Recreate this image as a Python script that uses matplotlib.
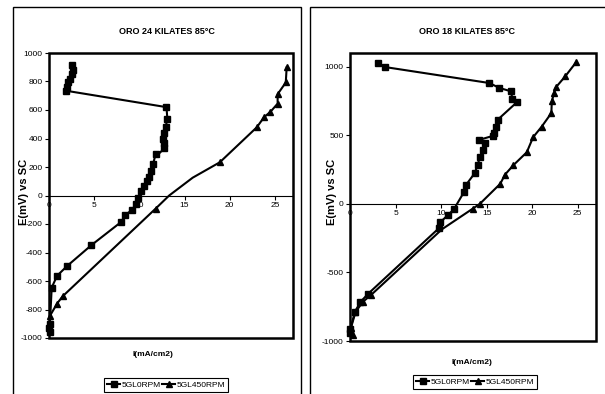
import matplotlib
matplotlib.use("Agg")
import matplotlib.pyplot as plt
from matplotlib.patches import Rectangle

plt.rcParams['axes.unicode_minus'] = False

# ORO 24 kilates, 5 g/L 0 RPM
i24_0 = [0.1, 0.05, 0.1, 0.3, 0.9, 2.0, 4.7, 8.0, 8.4, 9.2, 9.6, 9.9, 10.2, 10.5, 10.8, 11.1,
         11.3, 11.5, 11.8, 12.2, 12.75, 12.7, 12.6, 12.7, 12.9, 13.1, 13.0, 1.9, 2.0, 2.1, 2.3,
         2.5, 2.7, 2.6]
e24_0 = [-955, -930, -900, -646, -563, -495, -348, -185, -140, -100, -63, -15, 30, 66, 100, 127,
         170, 218, 289, 296, 330, 370, 400, 440, 480, 535, 620, 735, 760, 793, 815, 852, 880, 915]
mark24_0 = [i for i in range(len(i24_0)) if i != 19]

# ORO 24 kilates, 5 g/L 450 RPM
i24_450 = [0.1, 0.9, 1.5, 11.8, 13.3, 15.9, 18.9, 20.8, 23.0, 23.8, 24.5, 25.3, 25.3, 26.2, 26.3]
e24_450 = [-845, -758, -708, -92, 0, 125, 233, 347, 479, 550, 587, 645, 711, 793, 899]
mark24_450 = [0, 1, 2, 3, 6, 8, 9, 10, 11, 12, 13, 14]

# ORO 18 kilates, 5 g/L 0 RPM
i18_0 = [0.0, 0.05, 0.55, 1.15, 2.0, 9.8, 9.9, 10.8, 11.4, 12.5, 12.7, 13.7, 14.0, 14.3, 14.6,
         14.8, 14.2, 15.7, 15.8, 16.0, 16.2, 18.3, 17.8, 17.7, 16.4, 15.3, 3.8, 3.1]
e18_0 = [-940, -910, -785, -715, -655, -175, -135, -78, -40, 85, 135, 225, 285, 345, 395,
         445, 467, 496, 520, 564, 613, 740, 764, 820, 845, 881, 998, 1027]

# ORO 18 kilates, 5 g/L 450 RPM
i18_450 = [0.3, 0.1, 0.6, 1.4, 2.3, 10.1, 13.45, 14.25, 16.5, 17.0, 17.9, 19.4, 20.1, 21.05,
           22.1, 22.15, 22.4, 22.6, 23.65, 24.8]
e18_450 = [-955, -905, -790, -715, -665, -185, -36, 0, 147, 212, 280, 376, 486, 564,
           662, 747, 810, 850, 932, 1031]
mark18_450 = [i for i in range(len(i18_450)) if i != 5]

W, H = 605, 394
fig = plt.figure(figsize=(W / 100, H / 100), dpi=100)
sans = ['Liberation Sans', 'DejaVu Sans']


def fx(px):
    return px / W


def fy(py):
    return 1 - py / H


# chart frames
for x0, x1 in [(13, 301), (310, 640)]:
    fig.patches.append(Rectangle((fx(x0), fy(430)), fx(x1 - x0), (430 - 7) / H,
                                 transform=fig.transFigure, fill=False, lw=1.0,
                                 edgecolor='black'))


def panel(box, ylim, yticks, series, title, tx, ylx, xlx, xly, legx, legy):
    l, r, t, b = box
    ax = fig.add_axes([fx(l), fy(b), fx(r - l), (b - t) / H])
    handles = []
    for xs, ys, m, ms, me in series:
        h, = ax.plot(xs, ys, color='black', lw=1.5, marker=m, ms=ms, markevery=me,
                     clip_on=False)
        handles.append(h)
    ax.set_xlim(0, 27)
    ax.set_ylim(*ylim)
    ax.set_yticks(yticks)
    ax.set_xticks([0, 5, 10, 15, 20, 25])
    for s in ['top', 'right', 'left']:
        ax.spines[s].set_visible(False)
    ax.spines['bottom'].set_position(('data', 0))
    ax.spines['bottom'].set_linewidth(0.8)
    ax.add_patch(Rectangle((0, 0), 1, 1, transform=ax.transAxes, fill=False, lw=1.8,
                           edgecolor='black', clip_on=False, zorder=5))
    ax.tick_params(length=3, width=0.8, pad=1.5, labelsize=6)
    for lab in ax.get_xticklabels() + ax.get_yticklabels():
        lab.set_family(sans)
    fig.text(fx(tx), fy(32), title, ha='center', va='center', fontsize=6.5,
             family=sans, fontweight='bold')
    fig.text(fx(ylx), fy(192), 'E(mV) vs SC', rotation=90, ha='center', va='center',
             fontsize=8, family=sans, fontweight='bold')
    fig.text(fx(xlx), fy(xly), 'I(mA/cm2)', ha='center', va='center', fontsize=6,
             family=sans, fontweight='bold')
    leg = fig.legend(handles, ['5GL0RPM', '5GL450RPM'], loc='upper center',
                     bbox_to_anchor=(fx(legx), fy(legy)), ncol=2, frameon=True,
                     fancybox=False, framealpha=1, edgecolor='black', handlelength=1.6,
                     columnspacing=0.2, handletextpad=0.1, borderpad=0.35,
                     borderaxespad=0, prop={'family': sans, 'size': 6})
    leg.get_frame().set_linewidth(0.8)
    return ax


panel((49, 293, 53, 338), (-1000, 1000), range(-1000, 1001, 200),
      [(i24_0, e24_0, 's', 5, mark24_0), (i24_450, e24_450, '^', 5, mark24_450)],
      'ORO 24 KILATES 85°C', 167, 24, 153, 355, 166, 378)

panel((350, 596, 53, 341), (-1000, 1100), [-1000, -500, 0, 500, 1000],
      [(i18_0, e18_0, 's', 5, None), (i18_450, e18_450, '^', 5, mark18_450)],
      'ORO 18 KILATES 85°C', 467, 332, 472, 363, 475, 375)

fig.savefig('out.png', dpi=100)
